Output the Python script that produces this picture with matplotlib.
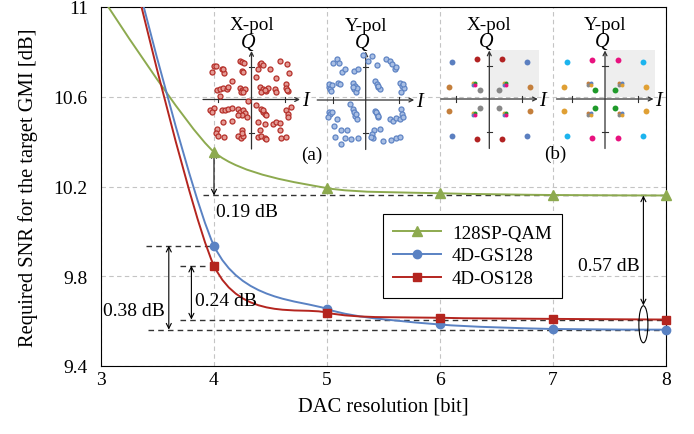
import matplotlib
matplotlib.use('Agg')
import matplotlib.pyplot as plt
import numpy as np
from matplotlib.lines import Line2D
from matplotlib.patches import Ellipse, PathPatch, Rectangle
from matplotlib.path import Path

plt.rcParams['font.family'] = ['Liberation Serif', 'DejaVu Serif']
plt.rcParams['font.size'] = 14

# ---- data ----
dac_bits = [3, 4, 5, 6, 7, 8]
snr_sp128 = [11.05, 10.354, 10.193, 10.17, 10.162, 10.16]
snr_gs128 = [11.75, 9.936, 9.654, 9.585, 9.565, 9.562]
snr_os128 = [11.75, 9.847, 9.638, 9.615, 9.61, 9.607]
labels = ['128SP-QAM', '4D-GS128', '4D-OS128']
colors = ['#8daa4f', '#5a82c3', '#b4251f']
markers = ['^', 'o', 's']

xticks = [3, 4, 5, 6, 7, 8]
yticks = [9.4, 9.8, 10.2, 10.6, 11.0]
ytick_labels = ['9.4', '9.8', '10.2', '10.6', '11']

# (a) received constellation, X-pol and Y-pol (I, Q)
xpol_a = [(-1.15, 1.02), (-1.08, 1.02), (-1.2, 0.82), (-0.9, 0.92), (-0.82, 0.8),
          (-0.85, 0.92), (-0.6, 0.57), (-0.35, 1.17), (-0.3, 1.14), (-0.22, 1.12),
          (-0.3, 0.87), (-0.27, 0.82), (-1.05, 0.3), (-0.95, 0.32), (-0.85, 0.34),
          (-0.75, 0.32), (-0.7, 0.37), (-0.35, 0.34), (-0.28, 0.3), (-0.2, 0.32),
          (-0.32, 0.22), (-0.25, 0.24), (-0.95, 0.1),
          (0.25, 1.07), (0.3, 1.12), (0.35, 1.04), (0.2, 0.92), (0.55, 0.92),
          (0.85, 1.17), (1.08, 1.07), (1.15, 0.8), (0.15, 0.67), (0.75, 0.64),
          (1.05, 0.47), (0.25, 0.37), (0.35, 0.32), (0.45, 0.27), (0.3, 0.22),
          (0.5, 0.34), (0.4, 0.3), (0.7, 0.32), (0.75, 0.22), (1.05, 0.34),
          (1.1, 0.27), (1.08, 0.3), (-0.1, -0.06),
          (-1.25, -0.33), (-1.15, -0.26), (-1.2, -0.38), (-0.9, -0.33), (-0.8, -0.31),
          (-0.7, -0.28), (-0.6, -0.26), (-0.4, -0.28), (-0.35, -0.38), (-0.25, -0.33),
          (-0.2, -0.4), (-0.3, -0.48), (-0.4, -0.48), (-0.15, -0.53), (-0.85, -0.68),
          (-0.6, -0.66), (-1.05, -0.88), (-1.08, -1.03), (-1.02, -1.1), (-0.83, -1.13),
          (-0.3, -0.91), (-0.4, -1.1), (-0.32, -1.16), (-0.25, -1.1), (-0.28, -1.03),
          (0.15, -0.18), (0.3, -0.28), (0.35, -0.38), (0.4, -0.43), (0.45, -0.48),
          (0.35, -0.33), (0.2, -0.68), (0.4, -0.73), (0.25, -0.93), (0.2, -1.13),
          (0.3, -1.1), (0.4, -1.16), (0.45, -1.2), (0.65, -0.73), (0.75, -0.68),
          (0.85, -0.7), (0.85, -0.93), (0.88, -1.16), (1.05, -1.13), (1.05, -0.33),
          (1.1, -0.43), (1.12, -0.53), (1.2, -0.23)]
ypol_a = [(-0.87, 1.25), (-1.0, 1.11), (-0.8, 1.11), (-0.72, 0.85), (-0.62, 0.93),
          (-0.34, 0.88), (-0.24, 0.95), (-0.07, 1.35), (0.06, 1.18), (0.2, 1.33),
          (-1.1, 0.4), (-1.12, 0.48), (-1.08, 0.33), (-1.06, 0.27), (-1.03, 0.45),
          (-0.84, 0.53), (-0.77, 0.48), (-0.37, 0.53), (-0.32, 0.43), (-0.34, 0.33),
          (-0.3, 0.25), (-0.27, 0.35), (-0.4, 0.38),
          (0.33, 1.05), (0.63, 1.23), (0.73, 1.18), (0.8, 1.08), (0.88, 0.95),
          (0.93, 1.01), (0.28, 0.58), (0.33, 0.48), (0.38, 0.38), (0.43, 0.33),
          (0.36, 0.43), (1.03, 0.53), (1.1, 0.43), (1.16, 0.35), (1.13, 0.48),
          (1.06, 0.25),
          (-1.12, -0.37), (-1.07, -0.42), (-1.14, -0.52), (-1.02, -0.35), (-0.87, -0.57),
          (-0.47, -0.12), (-0.37, -0.27), (-0.34, -0.37), (-0.32, -0.47), (-0.27, -0.57),
          (-0.3, -0.42), (-0.97, -0.79), (-0.74, -0.9), (-0.57, -0.92), (-0.92, -1.12),
          (-0.64, -1.15), (-0.44, -1.17), (-0.24, -1.15), (-0.74, -1.32),
          (0.28, -0.32), (0.33, -0.42), (0.38, -0.52), (0.3, -0.37), (0.36, -0.47),
          (0.26, -0.92), (0.2, -1.02), (0.23, -1.15), (0.16, -1.12), (0.43, -0.87),
          (0.53, -1.25), (0.78, -1.22), (0.93, -1.15), (1.03, -1.12), (0.73, -0.57),
          (0.83, -0.65), (0.93, -0.55), (1.03, -0.59), (1.06, -0.27), (1.1, -0.42),
          (1.13, -0.52)]

# (b) ideal 4D-OS128 projections: groups of points with one colour each
xpol_b = {
    '#5b7fc0': [(-1.13, 1.13), (1.13, 1.13), (-1.13, -1.13), (1.13, -1.13)],
    '#b22222': [(-0.38, 1.2), (0.38, 1.2), (-0.38, -1.2), (0.38, -1.2)],
    '#c47f3c': [(-1.23, 0.37), (1.23, 0.37), (-1.23, -0.37), (1.23, -0.37)],
    '#888888': [(-0.29, 0.27), (0.29, 0.27), (-0.29, -0.27), (0.29, -0.27)],
}
ypol_b = {
    '#1cb4ee': [(-1.15, 1.13), (1.15, 1.13), (-1.15, -1.13), (1.15, -1.13)],
    '#e8127f': [(-0.4, 1.19), (0.4, 1.19), (-0.4, -1.19), (0.4, -1.19)],
    '#e0a034': [(-1.24, 0.37), (1.24, 0.37), (-1.24, -0.37), (1.24, -0.37)],
    '#1f9a2a': [(-0.29, 0.27), (0.29, 0.27), (-0.29, -0.27), (0.29, -0.27)],
}
mixed_pts = [(-0.47, 0.45), (0.47, 0.45), (-0.47, -0.45), (0.47, -0.45)]
mixed_x = ['#e0a034', '#1f9a2a', '#5b7fc0', '#e8127f']
mixed_y = ['#c47f3c', '#5b7fc0', '#888888', '#e0a034']


def smooth_path(x, y, t=0.12):
    # cardinal spline through the points, drawn as cubic Bezier segments
    p = np.column_stack([x, y]).astype(float)
    n = len(p)
    verts, codes = [p[0]], [Path.MOVETO]
    for i in range(n - 1):
        c1 = p[i] if i == 0 else p[i] + t * (p[i + 1] - p[i - 1])
        c2 = p[i + 1] if i == n - 2 else p[i + 1] - t * (p[i + 2] - p[i])
        verts += [c1, c2, p[i + 1]]
        codes += [Path.CURVE4] * 3
    return Path(verts, codes)


W, H = 694, 435
fig = plt.figure(figsize=(W / 100, H / 100), dpi=100)
L, R, T, B = 101, 666, 8, 367
ax = fig.add_axes([L / W, 1 - B / H, (R - L) / W, (B - T) / H])
ax.set_xlim(3, 8)
ax.set_ylim(9.4, 11)
ax.set_xticks(xticks)
ax.set_yticks(yticks)
ax.set_yticklabels(ytick_labels)
ax.tick_params(axis='x', length=0, pad=3.5)
ax.tick_params(axis='y', length=0, pad=9.5)
ax.grid(True, color='#c4c4c4', ls=(0, (4, 3)), lw=0.8)
for s in ax.spines.values():
    s.set_linewidth(0.8)
ax.set_xlabel('DAC resolution [bit]', fontsize=14.8, labelpad=6)
ax.set_ylabel('Required SNR for the target GMI [dB]', fontsize=14.8, labelpad=11)

handles = []
for yv, c, m, lab in zip([snr_sp128, snr_gs128, snr_os128], colors, markers, labels):
    ax.add_patch(PathPatch(smooth_path(dac_bits, yv), fill=False, ec=c, lw=1.4, zorder=3))
    xs = np.array(dac_bits)
    ys = np.array(yv)
    keep = ys <= 11
    ms = 6.5 if m == '^' else 6
    ax.plot(xs[keep], ys[keep], ls='none', marker=m, color=c, ms=ms, clip_on=False, zorder=4)
    handles.append(Line2D([], [], color=c, lw=1.4, marker=m, ms=ms))

leg = ax.legend(handles, labels, loc='upper left', bbox_to_anchor=(0.499, 0.4234),
                borderaxespad=0, frameon=True, fancybox=False, edgecolor='black',
                framealpha=1, fontsize=13.6, handlelength=2.5, borderpad=0.55,
                labelspacing=0.3, handletextpad=0.6)
leg.get_frame().set_linewidth(0.8)

# dashed reference levels
dash = dict(color='#333333', ls=(0, (4, 3)), lw=1.0, zorder=2)
ax.plot([3.9, 8], [10.16, 10.16], **dash)
ax.plot([3.4, 4], [9.936, 9.936], **dash)
ax.plot([3.7, 3.96], [9.847, 9.847], **dash)
ax.plot([3.7, 8], [9.607, 9.607], **dash)
ax.plot([3.42, 8], [9.562, 9.562], **dash)

arr = dict(arrowstyle='<->', color='black', lw=0.8, shrinkA=0, shrinkB=0,
           mutation_scale=9)
ax.annotate('', xy=(4, 10.354), xytext=(4, 10.16), arrowprops=arr)
ax.annotate('', xy=(3.6, 9.936), xytext=(3.6, 9.562), arrowprops=arr)
ax.annotate('', xy=(3.8, 9.847), xytext=(3.8, 9.607), arrowprops=arr)
ax.annotate('', xy=(7.8, 10.16), xytext=(7.8, 9.67), arrowprops=arr)
ax.add_patch(Ellipse((7.8, 9.586), 0.08, 0.165, fill=False, ec='black', lw=0.8, zorder=5))
ax.text(4.02, 10.09, '0.19 dB', ha='left', va='center')
ax.text(3.29, 9.647, '0.38 dB', ha='center', va='center')
ax.text(3.83, 9.694, '0.24 dB', ha='left', va='center')
ax.text(7.77, 9.846, '0.57 dB', ha='right', va='center')


# ---- constellation insets ----
U = 33.0  # pixels per constellation unit


def inset(cx, cy, title):
    a = fig.add_axes([(cx - 1.8 * U) / W, 1 - (cy + 1.8 * U) / H, 3.6 * U / W, 4.4 * U / H])
    a.set_xlim(-1.8, 1.8)
    a.set_ylim(-1.8, 2.6)
    a.axis('off')
    a.patch.set_alpha(0)
    ap = dict(arrowstyle='->', color='#303030', lw=0.9, shrinkA=0, shrinkB=0,
              mutation_scale=7)
    a.annotate('', xy=(1.47, 0), xytext=(-1.47, 0), arrowprops=ap)
    a.annotate('', xy=(0, 1.47), xytext=(0, -1.5), arrowprops=ap)
    for v in (-1, 1):
        a.plot([v, v], [-0.08, 0.08], color='#303030', lw=0.8)
        a.plot([-0.08, 0.08], [v, v], color='#303030', lw=0.8)
    a.text(1.52, -0.04, 'I', style='italic', fontsize=14.5, ha='left', va='center')
    a.text(-0.1, 1.74, 'Q', style='italic', fontsize=14.5, ha='center', va='center')
    a.text(0, 2.27, title, fontsize=13.8, ha='center', va='center')
    return a


ax_ax = inset(251.5, 100.5, 'X-pol')
pts = np.array(xpol_a)
ax_ax.scatter(pts[:, 0], pts[:, 1], s=13, facecolor='#e49b95', edgecolor='#b5302a',
              lw=0.9, zorder=3)
ax_ay = inset(365.7, 101, 'Y-pol')
pts = np.array(ypol_a)
ax_ay.scatter(pts[:, 0], pts[:, 1], s=13, facecolor='#a9bfe4', edgecolor='#5f84c4',
              lw=0.9, zorder=3)
ax_ay.text(-1.65, -1.65, '(a)', ha='center', va='center', fontsize=13.8)

for cx, title, groups, mixc in [(489.3, 'X-pol', xpol_b, mixed_x),
                                (605.0, 'Y-pol', ypol_b, mixed_y)]:
    a = inset(cx, 100, title)
    a.add_patch(Rectangle((0, 0.05), 1.52, 1.42, color='#eeeeee', zorder=0, lw=0))
    for c, p in groups.items():
        p = np.array(p)
        a.scatter(p[:, 0], p[:, 1], s=18, color=c, lw=0, zorder=3)
    p = np.array(mixed_pts)
    offs = [(-0.035, 0.035), (0.035, 0.035), (-0.035, -0.035), (0.035, -0.035)]
    for c, (dx, dy) in zip(mixc, offs):
        a.scatter(p[:, 0] + dx, p[:, 1] + dy, s=8, color=c, lw=0, zorder=3)
    if title == 'Y-pol':
        a.text(-1.52, -1.65, '(b)', ha='center', va='center', fontsize=13.8)

fig.savefig('out.png', dpi=100)
